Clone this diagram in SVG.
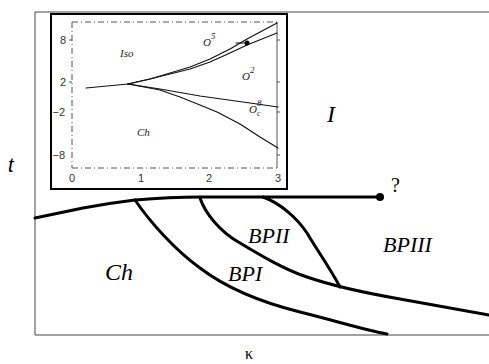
<svg xmlns="http://www.w3.org/2000/svg" width="489" height="364" viewBox="0 0 489 364">
<style>
.frame{fill:none;stroke:#444;stroke-width:1}
.thin{fill:none;stroke:#111;stroke-width:1.2;stroke-linejoin:round;stroke-linecap:round}
.thick{fill:none;stroke:#000;stroke-width:3;stroke-linejoin:round;stroke-linecap:round}
.ax{fill:none;stroke:#555;stroke-width:1}
.dash{fill:none;stroke:#555;stroke-width:1;stroke-dasharray:6 3 1 3}
.tick{font-family:"Liberation Sans",sans-serif;font-size:11px;fill:#333}
.lab{font-family:"Liberation Serif",serif;font-style:italic;fill:#000}
.ilab{font-family:"Liberation Serif",serif;font-style:italic;font-size:11px;fill:#222}
</style>
<rect width="489" height="364" fill="#fff"/>
<g id="outer-frame">
<path class="frame" d="M35,12 V335 M35,12 H489 M35,335 H489"/>
</g>
<g id="inset">
<rect x="51" y="14" width="236" height="175" fill="#fff" stroke="#000" stroke-width="2"/>
<path class="dash" d="M72,22 H277 M72,168 H277 M72,22 V168"/>
<path class="ax" d="M277,22 V168 M277,40 h3 M277,82 h3 M277,112 h3 M277,155 h3 M72,40 h-3 M72,82 h-3"/>
<text class="tick" x="66" y="44" text-anchor="end">8</text>
<text class="tick" x="66" y="86" text-anchor="end">2</text>
<text class="tick" x="65" y="116" text-anchor="end">−2</text>
<text class="tick" x="65" y="159" text-anchor="end">−8</text>
<text class="tick" x="72" y="182" text-anchor="middle">0</text>
<text class="tick" x="141" y="182" text-anchor="middle">1</text>
<text class="tick" x="209" y="182" text-anchor="middle">2</text>
<text class="tick" x="278" y="182" text-anchor="middle">3</text>
<path class="thin" stroke-width="2" d="M86,88 L128,84"/>
<polyline class="thin" points="128,84 150,79 170,73 190,67 210,59 230,49 247,39 277,23"/>
<polyline class="thin" points="128,84 150,79 170,74 190,69 210,62 230,53 247,45 277,33"/>
<polyline class="thin" points="128,84 160,89 200,96 250,103 278,107"/>
<polyline class="thin" points="128,84 160,90 180,97 200,105 217,112 240,124 260,137 278,148"/>
<circle cx="247" cy="43" r="2.5" fill="#000"/>
<path class="thin" d="M236,43 L246,43"/>
<text class="ilab" x="120" y="57">Iso</text>
<text class="ilab" x="203" y="46">O<tspan dy="-7" font-size="9">5</tspan></text>
<text class="ilab" x="242" y="80">O<tspan dy="-7" font-size="9">2</tspan></text>
<text class="ilab" x="249" y="113">O<tspan dy="-7" font-size="9">8</tspan><tspan x="257" dy="10" font-size="8">c</tspan></text>
<text class="ilab" x="137" y="136">Ch</text>
</g>
<g id="connectors">
<path class="thick" d="M35,218 L83,208 Q110,203 135,200 Q170,197 200,197 L380,197"/>
<path class="thick" d="M135,200 C150,222 175,250 200,268 C225,287 260,302 300,312 C340,322 365,330 387,334"/>
<path class="thick" d="M200,198 C205,213 220,232 240,243 C260,255 285,270 307,277 C330,285 360,292 400,299 L489,315"/>
<path class="thick" d="M263,197 C280,203 297,218 307,233 C317,250 330,268 340,287"/>
<circle cx="380" cy="197" r="4" fill="#000"/>
</g>
<g id="labels">
<text x="8" y="172" font-family="Liberation Sans,sans-serif" font-style="italic" font-size="20">t</text>
<text class="lab" x="327" y="122" font-size="24">I</text>
<text x="391" y="192" font-family="Liberation Serif,serif" font-size="20">?</text>
<text class="lab" x="105" y="280" font-size="24">Ch</text>
<text class="lab" x="228" y="281" font-size="22">BPI</text>
<text class="lab" x="248" y="243" font-size="22">BPII</text>
<text class="lab" x="383" y="252" font-size="22">BPIII</text>
<text x="245" y="359" font-family="Liberation Serif,serif" font-size="16">κ</text>
</g>
</svg>
